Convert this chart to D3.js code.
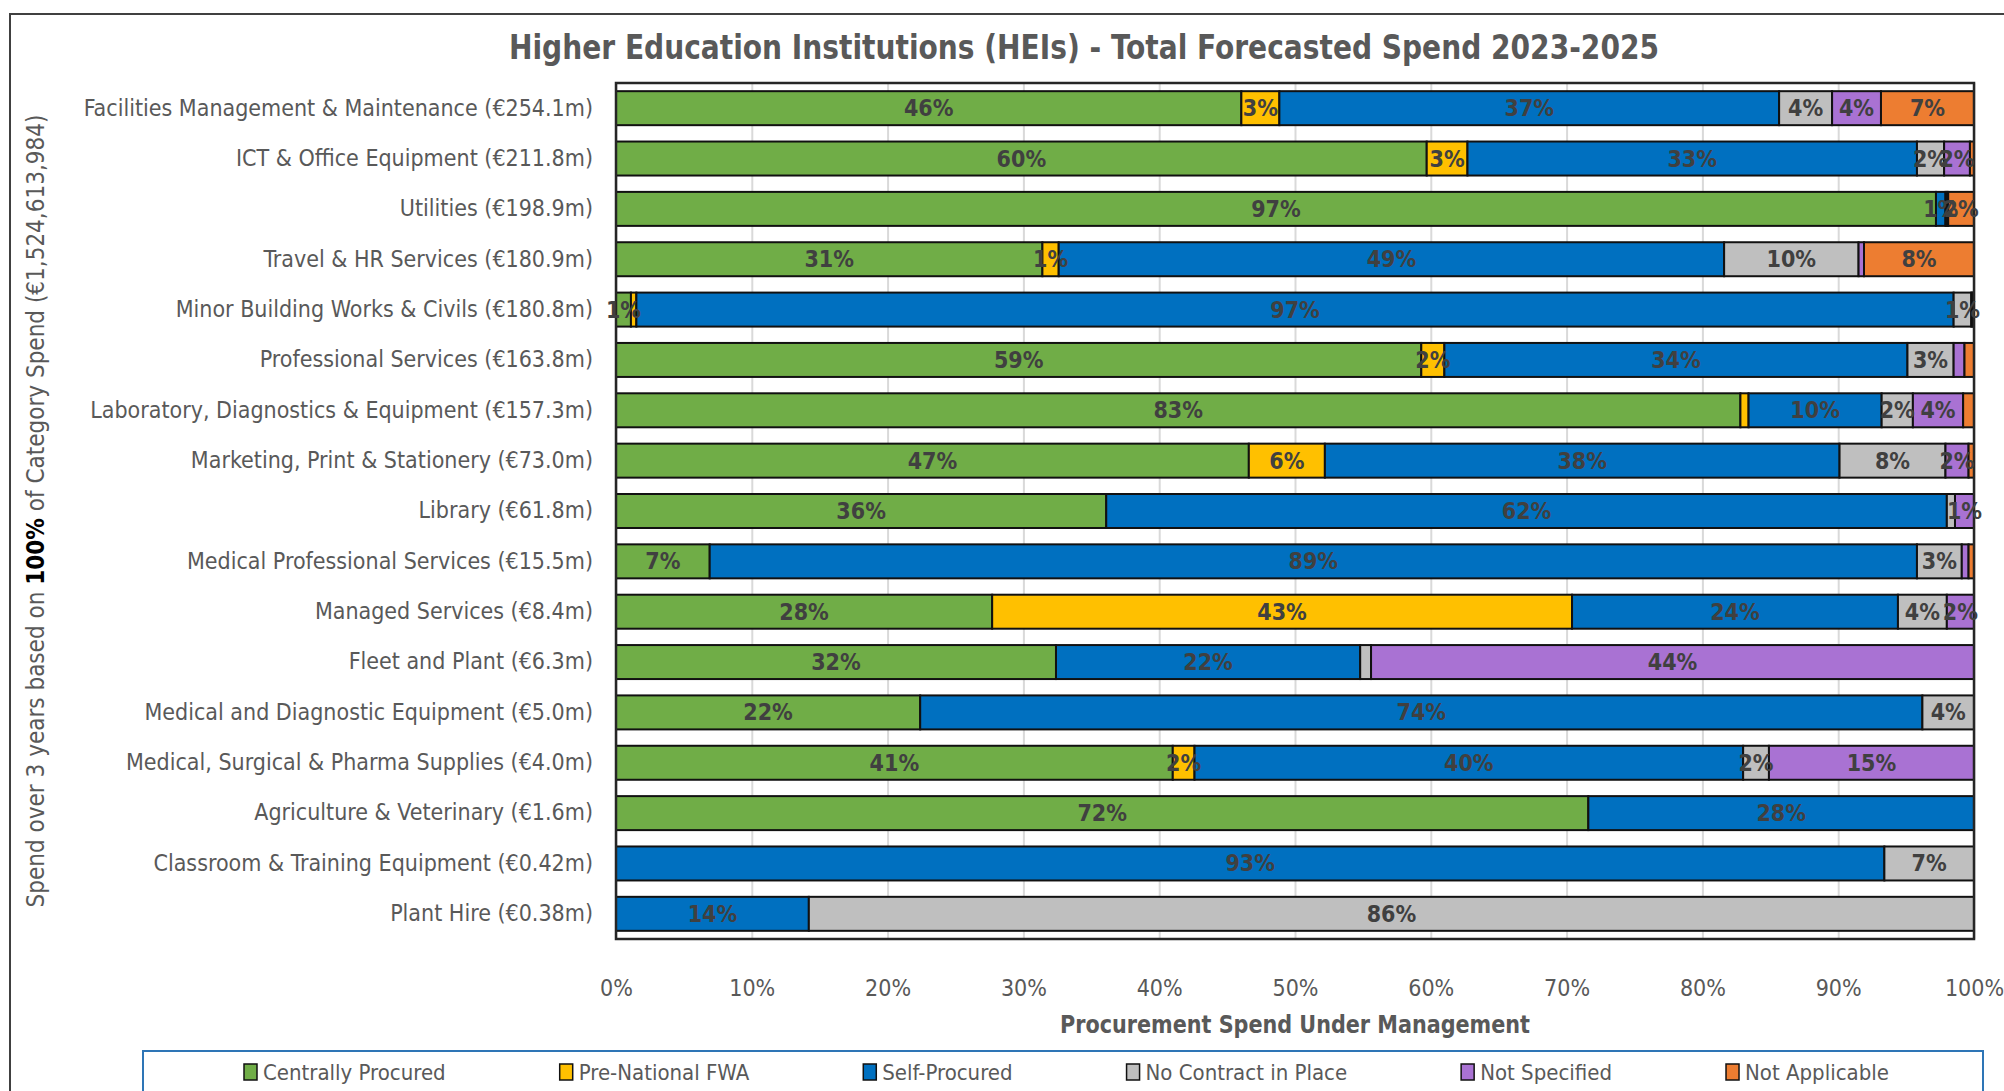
<!DOCTYPE html>
<html>
<head>
<meta charset="utf-8">
<script src="https://cdn.jsdelivr.net/npm/d3@7/dist/d3.min.js"></script>
<style>
  html, body { margin: 0; padding: 0; background: #fff; }
  svg { display: block; }
  text { font-family: "Liberation Sans Narrow", "DejaVu Sans Condensed", "Open Sans", sans-serif; }
</style>
</head>
<body>
<svg id="chart" width="2004" height="1091"></svg>
<script>
// ---------------- DATA ----------------
const categories = [
  "Facilities Management & Maintenance (€254.1m)",
  "ICT & Office Equipment (€211.8m)",
  "Utilities (€198.9m)",
  "Travel & HR Services (€180.9m)",
  "Minor Building Works & Civils (€180.8m)",
  "Professional Services (€163.8m)",
  "Laboratory, Diagnostics & Equipment (€157.3m)",
  "Marketing, Print & Stationery (€73.0m)",
  "Library (€61.8m)",
  "Medical Professional Services (€15.5m)",
  "Managed Services (€8.4m)",
  "Fleet and Plant (€6.3m)",
  "Medical and Diagnostic Equipment (€5.0m)",
  "Medical, Surgical & Pharma Supplies (€4.0m)",
  "Agriculture & Veterinary (€1.6m)",
  "Classroom & Training Equipment (€0.42m)",
  "Plant Hire (€0.38m)"
];
const seriesNames = ["Centrally Procured", "Pre-National FWA", "Self-Procured", "No Contract in Place", "Not Specified", "Not Applicable"];
const centrallyProcured = [46.05, 59.7, 97.2, 31.4, 1.1, 59.3, 82.8, 46.6, 36.1, 6.9, 27.7, 32.4, 22.4, 41.0, 71.6, 0, 0];
const preNationalFWA    = [2.8, 3.0, 0, 1.2, 0.4, 1.7, 0.6, 5.6, 0, 0, 42.7, 0, 0, 1.6, 0, 0, 0];
const selfProcured      = [36.8, 33.1, 0.7, 49.0, 97.0, 34.1, 9.8, 37.9, 61.9, 88.9, 24.0, 22.4, 73.8, 40.4, 28.4, 93.4, 14.2];
const noContract        = [3.9, 2.0, 0.1, 9.9, 1.3, 3.4, 2.3, 7.8, 0.6, 3.3, 3.6, 0.8, 3.8, 1.9, 0, 6.6, 85.8];
const notSpecified      = [3.6, 1.9, 0.1, 0.4, 0.1, 0.8, 3.7, 1.7, 1.4, 0.5, 2.0, 44.4, 0, 15.1, 0, 0, 0];
const notApplicable     = [6.85, 0.3, 1.9, 8.1, 0.1, 0.7, 0.8, 0.4, 0, 0.4, 0, 0, 0, 0, 0, 0, 0];
const seriesValues = [centrallyProcured, preNationalFWA, selfProcured, noContract, notSpecified, notApplicable];
const seriesColors = ["#70AD47", "#FFC000", "#0070C0", "#BFBFBF", "#A972D3", "#ED7D31"];
const xTicks = [0, 10, 20, 30, 40, 50, 60, 70, 80, 90, 100];
const labelMin = 1;
const extraLabels = [["Utilities (€198.9m)", "Self-Procured"]];
const titleText = "Higher Education Institutions (HEIs) - Total Forecasted Spend 2023-2025";
const xTitleText = "Procurement Spend Under Management";

// ---------------- LAYOUT ----------------
const svg = d3.select("#chart");
const plot = { left: 616, right: 1974, top: 83, bottom: 939 };
const grey = "#595959";
const fam = "'Liberation Sans Narrow','DejaVu Sans Condensed','Open Sans',sans-serif";

// outer chart border
svg.append("rect").attr("x", 10).attr("y", 14).attr("width", 2100).attr("height", 1200)
  .attr("fill", "#fff").attr("stroke", "#404040").attr("stroke-width", 2);

const rows = categories.map((c, i) => {
  const o = { category: c };
  seriesNames.forEach((s, j) => o[s] = seriesValues[j][i]);
  return o;
});
const stacked = d3.stack().keys(seriesNames)(rows);

const x = d3.scaleLinear().domain([0, 100]).range([plot.left, plot.right]);
const y = d3.scaleBand().domain(categories).range([plot.top, plot.bottom])
  .paddingInner(0.325).paddingOuter(0.1625);
const color = d3.scaleOrdinal().domain(seriesNames).range(seriesColors);

// gridlines
const grid = svg.append("g").attr("transform", `translate(0,${plot.bottom})`)
  .call(d3.axisBottom(x).tickValues(xTicks).tickSize(-(plot.bottom - plot.top)).tickFormat(""));
grid.select(".domain").remove();
grid.selectAll("line").attr("stroke", "#D9D9D9").attr("stroke-width", 2);

// tick labels
const xAxis = svg.append("g").attr("transform", `translate(0,${plot.bottom})`)
  .call(d3.axisBottom(x).tickValues(xTicks).tickSize(0).tickPadding(41).tickFormat(d => d + "%"));
xAxis.select(".domain").remove();
xAxis.selectAll("text").attr("fill", grey).style("font-size", "23px").style("font-family", fam);

// bars
const layers = svg.append("g").selectAll("g").data(stacked).join("g")
  .attr("fill", d => color(d.key));
layers.selectAll("rect").data(d => d.map(v => Object.assign(v, { key: d.key })))
  .join("rect")
  .attr("x", d => x(d[0]))
  .attr("y", d => y(d.data.category))
  .attr("width", d => Math.max(0, x(d[1]) - x(d[0])))
  .attr("height", y.bandwidth())
  .attr("stroke", d => (d[1] - d[0]) > 0 ? "#111" : "none")
  .attr("stroke-width", 2);

// plot border
svg.append("rect").attr("x", plot.left).attr("y", plot.top)
  .attr("width", plot.right - plot.left).attr("height", plot.bottom - plot.top)
  .attr("fill", "none").attr("stroke", "#262626").attr("stroke-width", 2.5);

// value labels
const showLabel = d => {
  const v = d[1] - d[0];
  if (v >= labelMin) return true;
  return v > 0 && extraLabels.some(e => e[0] === d.data.category && e[1] === d.key);
};
const labelData = stacked.flatMap(s => s.filter(showLabel));
svg.append("g").selectAll("text").data(labelData).join("text")
  .attr("x", d => x((d[0] + d[1]) / 2))
  .attr("y", d => y(d.data.category) + y.bandwidth() / 2)
  .attr("text-anchor", "middle").attr("dominant-baseline", "central")
  .attr("fill", "#404040").attr("font-weight", "bold").style("font-size", "23px")
  .text(d => Math.round(d[1] - d[0]) + "%");

// category labels
const yAxis = svg.append("g").attr("transform", `translate(${plot.left},0)`)
  .call(d3.axisLeft(y).tickSize(0).tickPadding(23));
yAxis.select(".domain").remove();
yAxis.selectAll("text").attr("fill", grey).style("font-size", "23px").style("font-family", fam);

// title
svg.append("text").attr("x", 1084).attr("y", 47).attr("text-anchor", "middle")
  .attr("dominant-baseline", "central").attr("fill", grey).attr("font-weight", "bold")
  .style("font-size", "34px").attr("textLength", 1150).attr("lengthAdjust", "spacingAndGlyphs")
  .text(titleText);

// x axis title
svg.append("text").attr("x", (plot.left + plot.right) / 2).attr("y", 1025)
  .attr("text-anchor", "middle").attr("dominant-baseline", "central")
  .attr("fill", grey).attr("font-weight", "bold").style("font-size", "24px")
  .attr("textLength", 470).attr("lengthAdjust", "spacingAndGlyphs").text(xTitleText);

// y axis title
const yt = svg.append("text").attr("transform", `translate(36,${(plot.top + plot.bottom) / 2}) rotate(-90)`)
  .attr("text-anchor", "middle").attr("dominant-baseline", "central")
  .attr("fill", grey).style("font-size", "24px");
yt.append("tspan").text("Spend over 3 years based on ");
yt.append("tspan").attr("font-weight", "bold").attr("fill", "#000").text("100%");
yt.append("tspan").text(" of Category Spend (€1,524,613,984)");

// legend
svg.append("rect").attr("x", 143).attr("y", 1051).attr("width", 1840).attr("height", 80)
  .attr("fill", "#fff").attr("stroke", "#2E75B6").attr("stroke-width", 2);
const legend = svg.append("g");
let lx = 244;
seriesNames.forEach((s, i) => {
  const g = legend.append("g").attr("transform", `translate(${lx},1072)`);
  g.append("rect").attr("x", 0).attr("y", -8).attr("width", 13).attr("height", 16)
    .attr("fill", seriesColors[i]).attr("stroke", "#111").attr("stroke-width", 1.5);
  const t = g.append("text").attr("x", 19).attr("y", 0).attr("dominant-baseline", "central")
    .attr("fill", grey).style("font-size", "22px").text(s);
  lx += 19 + t.node().getComputedTextLength() + 114;
});
</script>
</body>
</html>
